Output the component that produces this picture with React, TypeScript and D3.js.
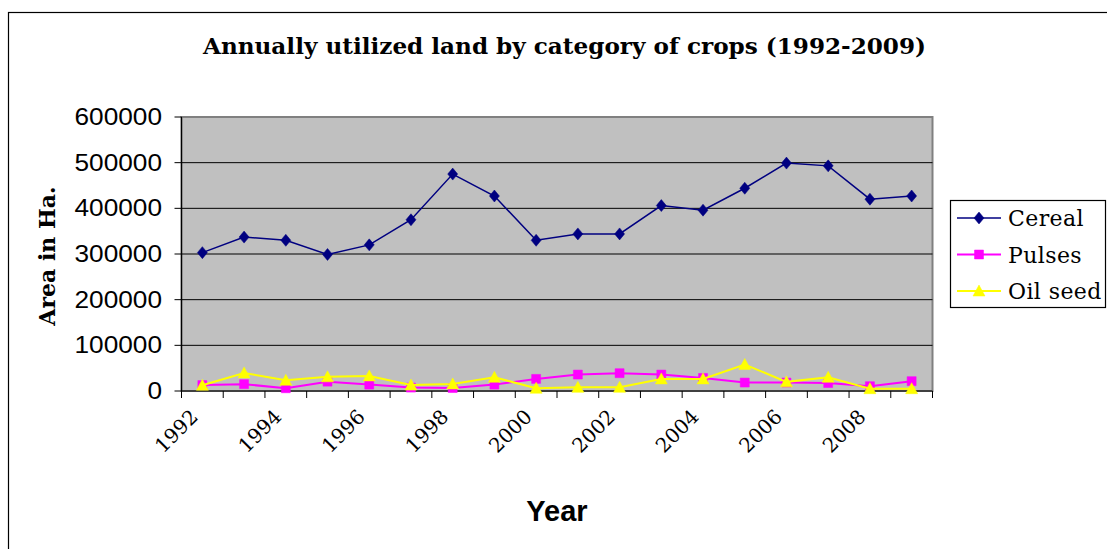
import React from "react";
import * as d3 from "d3";

const years = [
  1992, 1993, 1994, 1995, 1996, 1997, 1998, 1999, 2000,
  2001, 2002, 2003, 2004, 2005, 2006, 2007, 2008, 2009,
];
const xTickLabels = ["1992", "1994", "1996", "1998", "2000", "2002", "2004", "2006", "2008"];
const yTicks = [0, 100000, 200000, 300000, 400000, 500000, 600000];

const cereal = [
  303000, 337000, 330000, 299000, 320000, 375000, 475000, 427000, 330000,
  344000, 344000, 406000, 396000, 444000, 499000, 493000, 420000, 427000,
];
const pulses = [
  13000, 15000, 6000, 20500, 14000, 7500, 6500, 14000, 26500,
  36000, 39000, 36000, 28500, 18500, 18500, 17500, 10500, 21500,
];
const oilSeed = [
  12500, 39500, 23500, 31000, 33000, 13000, 15500, 30000, 6000,
  8000, 8000, 26500, 26500, 58000, 20000, 30000, 5000, 5000,
];

const seriesNames = ["Cereal", "Pulses", "Oil seed"];

const W = 1107;
const H = 549;
const plot = { left: 181.5, right: 932.5, top: 117, bottom: 391 };

const serif = "'DejaVu Serif', 'Liberation Serif', serif";
const sans = "'Liberation Sans', Arial, sans-serif";

const diamond = "M0,-6L5,0L0,6L-5,0Z";
const square = "M-4.5,-4.5H4.5V4.5H-4.5Z";
const triangle = "M0,-6L6,5L-6,5Z";

export default function App() {
  const x = d3
    .scaleBand<number>()
    .domain(years)
    .range([plot.left, plot.right])
    .padding(0);
  const cx = (yr: number) => (x(yr) as number) + x.bandwidth() / 2;
  const y = d3.scaleLinear().domain([0, 600000]).range([plot.bottom, plot.top]);

  const series = [
    { name: seriesNames[0], values: cereal, color: "#000080", marker: diamond, width: 1.5 },
    { name: seriesNames[1], values: pulses, color: "#FF00FF", marker: square, width: 2 },
    { name: seriesNames[2], values: oilSeed, color: "#FFFF00", marker: triangle, width: 2 },
  ];

  const line = d3
    .line<number>()
    .x((_, i) => cx(years[i]))
    .y((v) => y(v));

  const boundaries = years.map((yr) => x(yr) as number).concat([plot.right]);

  return (
    <svg
      width={W}
      height={H}
      style={{ position: "absolute", left: 0, top: 0, background: "#fff" }}
    >
      {/* outer chart frame */}
      <rect x={8.5} y={12.5} width={1120} height={560} fill="#fff" stroke="#000" strokeWidth={1.2} />

      <text
        x={564.5}
        y={54}
        textAnchor="middle"
        fontFamily={serif}
        fontWeight="bold"
        fontSize={22}
        textLength={723}
        lengthAdjust="spacingAndGlyphs"
        fill="#000"
      >
        Annually utilized land by category of crops (1992-2009)
      </text>

      {/* plot area */}
      <rect
        x={plot.left}
        y={plot.top}
        width={plot.right - plot.left}
        height={plot.bottom - plot.top}
        fill="#C0C0C0"
        stroke="#808080"
        strokeWidth={2}
      />

      {yTicks.slice(1, -1).map((t) => (
        <line key={t} x1={plot.left} x2={plot.right} y1={y(t)} y2={y(t)} stroke="#000" strokeWidth={1} />
      ))}

      {/* y axis */}
      <line x1={plot.left} x2={plot.left} y1={plot.top} y2={plot.bottom} stroke="#000" strokeWidth={1.2} />
      {yTicks.map((t) => (
        <g key={t}>
          <line x1={plot.left - 7} x2={plot.left} y1={y(t)} y2={y(t)} stroke="#000" strokeWidth={1} />
          <text
            transform={`translate(162,${y(t) + 8}) scale(1.14,1)`}
            textAnchor="end"
            fontFamily={sans}
            fontSize={23}
            fill="#000"
          >
            {t}
          </text>
        </g>
      ))}

      {/* x axis */}
      <line x1={plot.left} x2={plot.right} y1={plot.bottom} y2={plot.bottom} stroke="#000" strokeWidth={1.2} />
      {boundaries.map((b, i) => (
        <line key={i} x1={b} x2={b} y1={plot.bottom} y2={plot.bottom + 7} stroke="#000" strokeWidth={1} />
      ))}
      {xTickLabels.map((lab) => {
        const ax = cx(+lab) - 3;
        const ay = plot.bottom + 27;
        return (
          <text
            key={lab}
            transform={`translate(${ax},${ay}) rotate(-45)`}
            textAnchor="end"
            fontFamily={serif}
            fontSize={20}
            fill="#000"
          >
            {lab}
          </text>
        );
      })}

      <text
        x={(plot.left + plot.right) / 2}
        y={521}
        textAnchor="middle"
        fontFamily={sans}
        fontWeight="bold"
        fontSize={29}
        fill="#000"
      >
        Year
      </text>

      <text
        transform={`translate(55,${(plot.top + plot.bottom) / 2 + 2}) rotate(-90)`}
        textAnchor="middle"
        fontFamily={serif}
        fontWeight="bold"
        fontSize={22}
        fill="#000"
      >
        Area in Ha.
      </text>

      {/* series */}
      {series.map((s) => (
        <g key={s.name}>
          <path d={line(s.values) ?? ""} fill="none" stroke={s.color} strokeWidth={s.width} />
          {s.values.map((v, i) => (
            <path
              key={i}
              d={s.marker}
              transform={`translate(${cx(years[i])},${y(v)})`}
              fill={s.color}
              stroke={s.color}
              strokeWidth={0.5}
            />
          ))}
        </g>
      ))}

      {/* legend */}
      <rect x={950.5} y={200.5} width={155} height={107} fill="#fff" stroke="#000" strokeWidth={1.2} />
      {series.map((s, i) => {
        const ly = 218 + i * 36.5;
        return (
          <g key={s.name}>
            <line x1={957} x2={1001} y1={ly} y2={ly} stroke={s.color} strokeWidth={s.width} />
            <path d={s.marker} transform={`translate(979,${ly})`} fill={s.color} stroke={s.color} strokeWidth={0.5} />
            <text x={1008} y={ly + 8} fontFamily={serif} fontSize={22} letterSpacing={0.4} fill="#000">
              {s.name}
            </text>
          </g>
        );
      })}
    </svg>
  );
}
